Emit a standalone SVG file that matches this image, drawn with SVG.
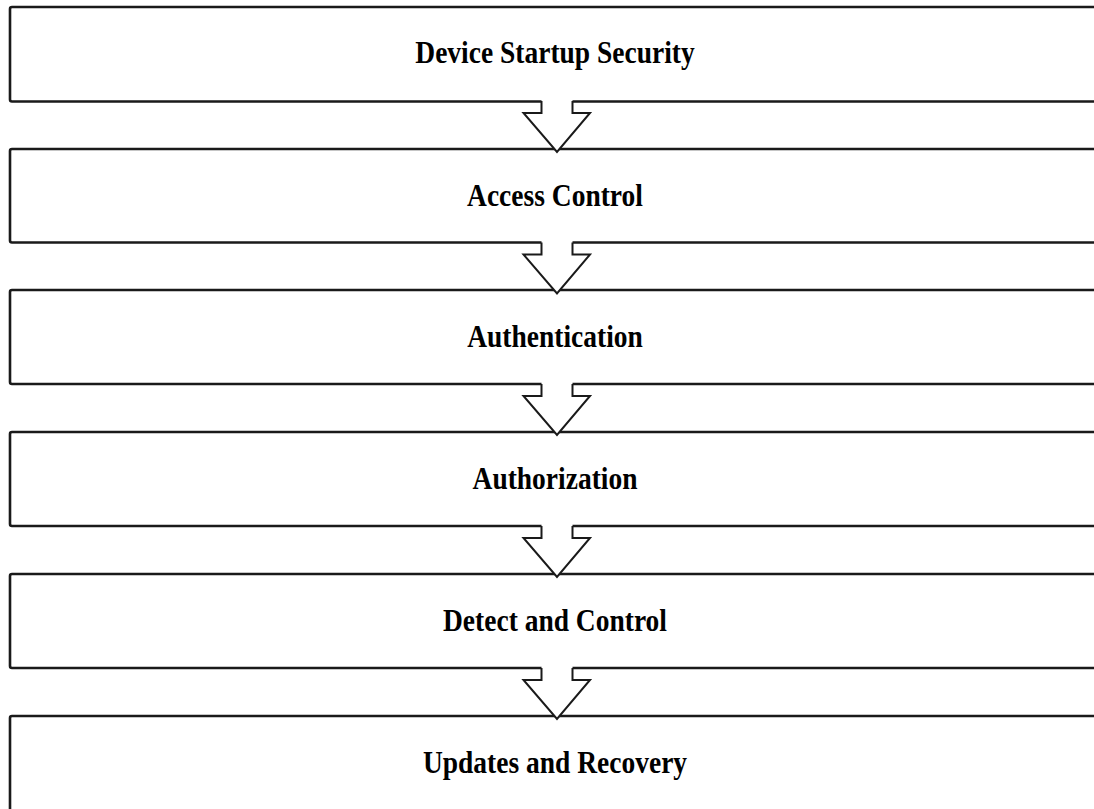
<svg xmlns="http://www.w3.org/2000/svg" width="1094" height="809" viewBox="0 0 1094 809">
<style>
.box{fill:#fff;stroke:#1a1a1a;stroke-width:2.6}
.af{fill:#fff;stroke:none}
.arr{fill:none;stroke:#1a1a1a;stroke-width:2;stroke-linejoin:miter}
.lbl{font-family:"Liberation Serif","Times New Roman",serif;font-weight:bold;font-size:27.5px;fill:#000;text-anchor:middle}
</style>
<defs>
<g id="arrow">
<polygon class="af" points="541.5,98 541.5,113 523.5,113 557,152 590,113 572.5,113 572.5,98"/>
<polyline class="arr" points="541.5,101 541.5,113 523.5,113 557,152 590,113 572.5,113 572.5,101"/>
</g>
</defs>
<rect width="1094" height="809" fill="#fff"/>
<g id="n1"><rect class="box" x="10" y="7" width="1100" height="94.5" rx="2"/><text class="lbl" transform="translate(555,63) scale(1,1.12)">Device Startup Security</text></g>
<g id="n2"><rect class="box" x="10" y="149" width="1100" height="93.5" rx="2"/><text class="lbl" transform="translate(555,206) scale(1,1.12)">Access Control</text></g>
<g id="n3"><rect class="box" x="10" y="290" width="1100" height="94" rx="2"/><text class="lbl" transform="translate(555,347) scale(1,1.12)">Authentication</text></g>
<g id="n4"><rect class="box" x="10" y="432" width="1100" height="94" rx="2"/><text class="lbl" transform="translate(555,489) scale(1,1.12)">Authorization</text></g>
<g id="n5"><rect class="box" x="10" y="574" width="1100" height="94" rx="2"/><text class="lbl" transform="translate(555,631) scale(1,1.12)">Detect and Control</text></g>
<g id="n6"><rect class="box" x="10" y="716" width="1100" height="120" rx="2"/><text class="lbl" transform="translate(555,773) scale(1,1.12)">Updates and Recovery</text></g>
<g id="connectors">
<use href="#arrow"/>
<use href="#arrow" transform="translate(0,141.5)"/>
<use href="#arrow" transform="translate(0,283)"/>
<use href="#arrow" transform="translate(0,425)"/>
<use href="#arrow" transform="translate(0,567)"/>
</g>
</svg>
